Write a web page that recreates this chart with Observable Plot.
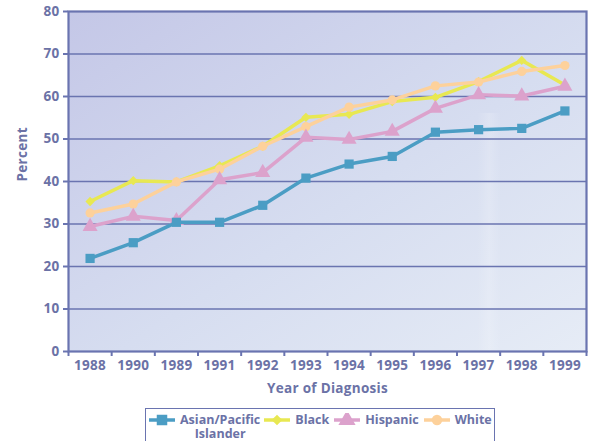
<!DOCTYPE html>
<html>
<head>
<meta charset="utf-8">
<script src="https://cdn.jsdelivr.net/npm/d3@7"></script>
<script src="https://cdn.jsdelivr.net/npm/@observablehq/plot@0.6"></script>
<style>
  html, body { margin: 0; padding: 0; background: #fff; }
  #wrap { position: relative; width: 589px; height: 441px; overflow: hidden; font-family: "Open Sans", sans-serif; }
  #legend { position: absolute; left: 145px; top: 408px; width: 350px; height: 40px;
    border: 1.5px solid #6a74b0; display: flex; align-items: flex-start; box-sizing: border-box;
    color: #6b72a6; font-weight: bold; font-size: 12.5px; line-height: 14px; padding-top: 4px; }
  .item { display: flex; align-items: flex-start; }
  .item svg { flex: none; margin-right: 5px; }
  .lab { text-align: center; }
</style>
</head>
<body>
<div id="wrap">
  <div id="chart"></div>
  <div id="legend"></div>
</div>
<script>
const categories = ["1988","1990","1989","1991","1992","1993","1994","1995","1996","1997","1998","1999"];
const groups = ["Asian/Pacific Islander","Black","Hispanic","White"];
const asian    = [21.9, 25.6, 30.4, 30.4, 34.4, 40.8, 44.1, 45.9, 51.6, 52.2, 52.5, 56.6];
const black    = [35.3, 40.2, 39.9, 43.7, 48.3, 55.1, 55.8, 58.8, 59.8, 63.5, 68.5, 62.7];
const hispanic = [29.4, 31.8, 30.8, 40.4, 42.1, 50.4, 49.9, 51.8, 57.2, 60.4, 60.1, 62.4];
const white    = [32.6, 34.7, 39.9, 42.9, 48.3, 52.9, 57.5, 59.2, 62.5, 63.4, 65.9, 67.3];
const yTicks = [0, 10, 20, 30, 40, 50, 60, 70, 80];

const colors = {"Asian/Pacific Islander": "#4b9dc4", "Black": "#e8e852", "Hispanic": "#dca2cc", "White": "#fdd19b"};
const symbols = {"Asian/Pacific Islander": "square", "Black": "diamond2", "Hispanic": "triangle", "White": "circle"};
const radii = {"Asian/Pacific Islander": 5.2, "Black": 4.2, "Hispanic": 5.6, "White": 4.6};
const seriesValues = {"Asian/Pacific Islander": asian, "Black": black, "Hispanic": hispanic, "White": white};

const rows = [];
for (const g of groups) seriesValues[g].forEach((v, i) => rows.push({group: g, pos: i + 0.5, value: v}));

const axisColor = "#6a74b0";
const textColor = "#6b72a6";

function background(index, scales, values, dims) {
  const ns = "http://www.w3.org/2000/svg";
  const g = document.createElementNS(ns, "g");
  const defs = document.createElementNS(ns, "defs");
  defs.innerHTML = `<linearGradient id="bgGrad" x1="0" y1="0" x2="1" y2="1">
      <stop offset="0" stop-color="#c4c7e7"/>
      <stop offset="0.55" stop-color="#d6ddf0"/>
      <stop offset="1" stop-color="#e6ecf6"/>
    </linearGradient>
    <linearGradient id="streak" x1="0" y1="0" x2="1" y2="0">
      <stop offset="0" stop-color="#fff" stop-opacity="0"/>
      <stop offset="0.5" stop-color="#fff" stop-opacity="0.18"/>
      <stop offset="1" stop-color="#fff" stop-opacity="0"/>
    </linearGradient>`;
  g.appendChild(defs);
  const w = dims.width - dims.marginLeft - dims.marginRight;
  const h = dims.height - dims.marginTop - dims.marginBottom;
  const r = document.createElementNS(ns, "rect");
  r.setAttribute("x", dims.marginLeft);
  r.setAttribute("y", dims.marginTop);
  r.setAttribute("width", w);
  r.setAttribute("height", h);
  r.setAttribute("fill", "url(#bgGrad)");
  g.appendChild(r);
  const s = document.createElementNS(ns, "rect");
  s.setAttribute("x", dims.marginLeft + 0.79 * w);
  s.setAttribute("y", dims.marginTop + 0.3 * h);
  s.setAttribute("width", 24);
  s.setAttribute("height", 0.7 * h);
  s.setAttribute("fill", "url(#streak)");
  g.appendChild(s);
  return g;
}

const drawOrder = ["Black", "White", "Hispanic", "Asian/Pacific Islander"];
const seriesMarks = [];
for (const g of drawOrder) {
  const d = rows.filter(r => r.group === g);
  seriesMarks.push(Plot.line(d, {x: "pos", y: "value", stroke: colors[g], strokeWidth: 3.5}));
  seriesMarks.push(Plot.dot(d, {x: "pos", y: "value", symbol: () => symbols[g], fill: colors[g], r: radii[g], stroke: "none"}));
}

const chart = Plot.plot({
  width: 589,
  height: 405,
  marginLeft: 68,
  marginRight: 3,
  marginTop: 11,
  marginBottom: 54,
  style: {fontFamily: "'Open Sans', sans-serif", fontWeight: "bold", fontSize: "13px", color: textColor, background: "transparent"},
  x: {type: "linear", domain: [0, 12]},
  y: {domain: [0, 80]},
  symbol: {type: "identity"},
  marks: [
    background,
    Plot.ruleY(yTicks.slice(1, -1), {stroke: axisColor, strokeWidth: 1.5}),
    ...seriesMarks,
    Plot.frame({stroke: axisColor, strokeWidth: 2.2}),
    Plot.axisY(yTicks, {tickSize: 5, tickPadding: 4, stroke: axisColor, strokeWidth: 2, label: null, fill: textColor, fontSize: 13.5}),
    Plot.axisX(d3.range(0, 13), {tickSize: 5, stroke: axisColor, strokeWidth: 2, tickFormat: () => "", label: null}),
    Plot.axisX(categories.map((c, i) => i + 0.5), {tickSize: 0, tickPadding: 9, tickFormat: (d) => categories[Math.floor(d)], label: null, fill: textColor, fontSize: 13.5}),
    Plot.text(["Percent"], {text: d => d, frameAnchor: "left", dx: -46, rotate: -90, fill: textColor, fontSize: 13.5}),
    Plot.text(["Year of Diagnosis"], {text: d => d, frameAnchor: "bottom", dy: 41, fill: textColor, fontSize: 13.5})
  ]
});
chart.style.letterSpacing = "0.3px";
document.getElementById("chart").appendChild(chart);

// Legend
const legendLabels = {"Asian/Pacific Islander": "Asian/Pacific<br>Islander", "Black": "Black", "Hispanic": "Hispanic", "White": "White"};
const legendMargins = {"Asian/Pacific Islander": 3, "Black": 4, "Hispanic": 5, "White": 5};
const legend = document.getElementById("legend");
for (const g of groups) {
  const item = document.createElement("div");
  item.className = "item";
  item.style.marginLeft = legendMargins[g] + "px";
  const sw = d3.create("svg").attr("width", 26).attr("height", 14);
  sw.append("line").attr("x1", 0).attr("x2", 26).attr("y1", 7).attr("y2", 7).attr("stroke", colors[g]).attr("stroke-width", 3.5);
  const symMap = {square: d3.symbolSquare, diamond2: d3.symbolDiamond2, triangle: d3.symbolTriangle, circle: d3.symbolCircle};
  sw.append("path").attr("transform", "translate(13,7)")
    .attr("d", d3.symbol(symMap[symbols[g]], Math.PI * radii[g] * radii[g] * 1.3)())
    .attr("fill", colors[g]);
  item.appendChild(sw.node());
  const lab = document.createElement("div");
  lab.className = "lab";
  lab.innerHTML = legendLabels[g];
  item.appendChild(lab);
  legend.appendChild(item);
}
</script>
</body>
</html>
